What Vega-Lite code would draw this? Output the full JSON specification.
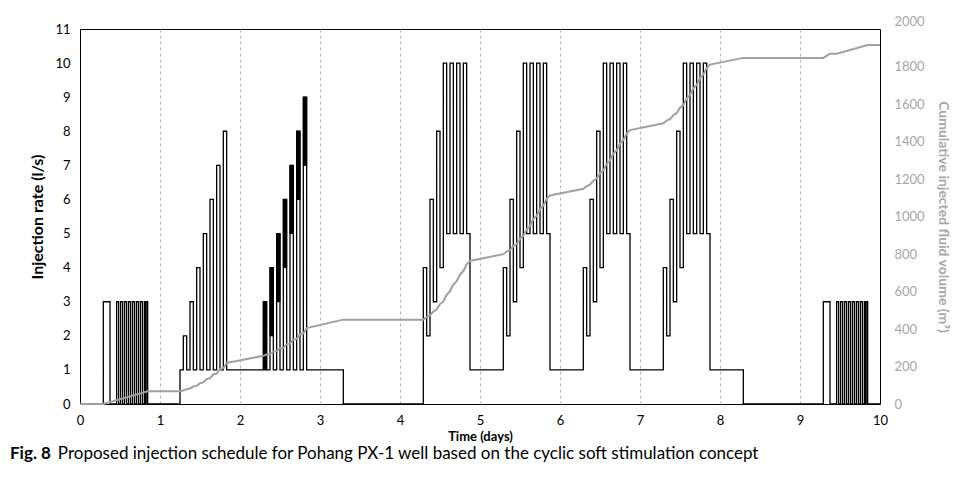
{
  "$schema": "https://vega.github.io/schema/vega-lite/v6.json",
  "width": 800,
  "height": 375,
  "autosize": "none",
  "padding": {"left": 80, "top": 29, "right": 78, "bottom": 86},
  "background": "white",
  "config": {"font": "Lato", "view": {"stroke": "black", "strokeWidth": 1}},
  "title": {
    "text": "Fig. 8",
    "subtitle": "\u200b\u00a0\u00a0\u00a0\u00a0\u00a0\u00a0\u00a0\u00a0\u00a0\u00a0\u00a0Proposed injection schedule for Pohang PX-1 well based on the cyclic soft stimulation concept",
    "orient": "bottom",
    "anchor": "start",
    "frame": "group",
    "dx": -70,
    "offset": 3,
    "font": "Lato",
    "fontSize": 17,
    "fontWeight": "bold",
    "color": "black",
    "subtitleFont": "Lato",
    "subtitleFontSize": 17,
    "subtitleFontWeight": "normal",
    "subtitleColor": "black",
    "subtitlePadding": -17
  },
  "datasets": {
    "burst": [
      {"h0": 55, "h1": 56, "lo": 1, "hi": 3},
      {"h0": 57, "h1": 58, "lo": 2, "hi": 4},
      {"h0": 59, "h1": 60, "lo": 3, "hi": 5},
      {"h0": 61, "h1": 62, "lo": 4, "hi": 6},
      {"h0": 63, "h1": 64, "lo": 5, "hi": 7},
      {"h0": 65, "h1": 66, "lo": 6, "hi": 8},
      {"h0": 67, "h1": 68, "lo": 7, "hi": 9}
    ],
    "rate": [
      {"h": 0, "r": 0}, {"h": 7, "r": 3}, {"h": 9, "r": 0},
      {"h": 11, "r": 3}, {"h": 11.6, "r": 0}, {"h": 12.2, "r": 3}, {"h": 12.8, "r": 0}, {"h": 13.4, "r": 3}, {"h": 14, "r": 0},
      {"h": 14.6, "r": 3}, {"h": 15.2, "r": 0}, {"h": 15.8, "r": 3}, {"h": 16.4, "r": 0}, {"h": 17, "r": 3}, {"h": 17.6, "r": 0},
      {"h": 18.2, "r": 3}, {"h": 18.8, "r": 0}, {"h": 19.4, "r": 3}, {"h": 19.7, "r": 0}, {"h": 19.85, "r": 3}, {"h": 20.3, "r": 0},
      {"h": 30, "r": 1}, {"h": 31, "r": 2}, {"h": 32, "r": 1}, {"h": 33, "r": 3}, {"h": 34, "r": 1}, {"h": 35, "r": 4}, {"h": 36, "r": 1},
      {"h": 37, "r": 5}, {"h": 38, "r": 1}, {"h": 39, "r": 6}, {"h": 40, "r": 1}, {"h": 41, "r": 7}, {"h": 42, "r": 1}, {"h": 43, "r": 8}, {"h": 44, "r": 1},
      {"h": 55, "r": 3}, {"h": 56, "r": 1}, {"h": 57, "r": 4}, {"h": 58, "r": 1}, {"h": 59, "r": 5}, {"h": 60, "r": 1}, {"h": 61, "r": 6}, {"h": 62, "r": 1},
      {"h": 63, "r": 7}, {"h": 64, "r": 1}, {"h": 65, "r": 8}, {"h": 66, "r": 1}, {"h": 67, "r": 9}, {"h": 68, "r": 1}, {"h": 79, "r": 0},
      {"h": 103, "r": 4}, {"h": 104, "r": 2}, {"h": 105, "r": 6}, {"h": 106, "r": 3}, {"h": 107, "r": 8}, {"h": 108, "r": 4}, {"h": 109, "r": 10},
      {"h": 110, "r": 5}, {"h": 111, "r": 10}, {"h": 112, "r": 5}, {"h": 113, "r": 10}, {"h": 114, "r": 5}, {"h": 115, "r": 10}, {"h": 116, "r": 5}, {"h": 117, "r": 1},
      {"h": 127, "r": 4}, {"h": 128, "r": 2}, {"h": 129, "r": 6}, {"h": 130, "r": 3}, {"h": 131, "r": 8}, {"h": 132, "r": 4}, {"h": 133, "r": 10},
      {"h": 134, "r": 5}, {"h": 135, "r": 10}, {"h": 136, "r": 5}, {"h": 137, "r": 10}, {"h": 138, "r": 5}, {"h": 139, "r": 10}, {"h": 140, "r": 5}, {"h": 141, "r": 1},
      {"h": 151, "r": 4}, {"h": 152, "r": 2}, {"h": 153, "r": 6}, {"h": 154, "r": 3}, {"h": 155, "r": 8}, {"h": 156, "r": 4}, {"h": 157, "r": 10},
      {"h": 158, "r": 5}, {"h": 159, "r": 10}, {"h": 160, "r": 5}, {"h": 161, "r": 10}, {"h": 162, "r": 5}, {"h": 163, "r": 10}, {"h": 164, "r": 5}, {"h": 165, "r": 1},
      {"h": 175, "r": 4}, {"h": 176, "r": 2}, {"h": 177, "r": 6}, {"h": 178, "r": 3}, {"h": 179, "r": 8}, {"h": 180, "r": 4}, {"h": 181, "r": 10},
      {"h": 182, "r": 5}, {"h": 183, "r": 10}, {"h": 184, "r": 5}, {"h": 185, "r": 10}, {"h": 186, "r": 5}, {"h": 187, "r": 10}, {"h": 188, "r": 5}, {"h": 189, "r": 1},
      {"h": 199, "r": 0},
      {"h": 223, "r": 3}, {"h": 225, "r": 0},
      {"h": 227, "r": 3}, {"h": 227.6, "r": 0}, {"h": 228.2, "r": 3}, {"h": 228.8, "r": 0}, {"h": 229.4, "r": 3}, {"h": 230, "r": 0},
      {"h": 230.6, "r": 3}, {"h": 231.2, "r": 0}, {"h": 231.8, "r": 3}, {"h": 232.4, "r": 0}, {"h": 233, "r": 3}, {"h": 233.6, "r": 0},
      {"h": 234.2, "r": 3}, {"h": 234.8, "r": 0}, {"h": 235.4, "r": 3}, {"h": 235.7, "r": 0}, {"h": 235.85, "r": 3}, {"h": 236.3, "r": 0}, {"h": 240, "r": 0}
    ],
    "vol": [
      {"h": 0, "v": 0}, {"h": 7, "v": 0}, {"h": 20.3, "v": 68}, {"h": 30, "v": 68},
      {"h": 31, "v": 72}, {"h": 32, "v": 79}, {"h": 33, "v": 83}, {"h": 34, "v": 93}, {"h": 35, "v": 97}, {"h": 36, "v": 111}, {"h": 37, "v": 115},
      {"h": 38, "v": 133}, {"h": 39, "v": 137}, {"h": 40, "v": 158}, {"h": 41, "v": 162}, {"h": 42, "v": 187}, {"h": 43, "v": 191}, {"h": 44, "v": 219},
      {"h": 55, "v": 257}, {"h": 56, "v": 264}, {"h": 57, "v": 268}, {"h": 58, "v": 279}, {"h": 59, "v": 282}, {"h": 60, "v": 297}, {"h": 61, "v": 300},
      {"h": 62, "v": 318}, {"h": 63, "v": 322}, {"h": 64, "v": 343}, {"h": 65, "v": 347}, {"h": 66, "v": 372}, {"h": 67, "v": 376}, {"h": 68, "v": 405},
      {"h": 79, "v": 450}, {"h": 103, "v": 450},
      {"h": 104, "v": 464}, {"h": 105, "v": 472}, {"h": 106, "v": 493}, {"h": 107, "v": 504}, {"h": 108, "v": 533}, {"h": 109, "v": 547}, {"h": 110, "v": 583},
      {"h": 111, "v": 601}, {"h": 112, "v": 637}, {"h": 113, "v": 655}, {"h": 114, "v": 691}, {"h": 115, "v": 709}, {"h": 116, "v": 745}, {"h": 117, "v": 763},
      {"h": 127, "v": 799},
      {"h": 128, "v": 813}, {"h": 129, "v": 820}, {"h": 130, "v": 842}, {"h": 131, "v": 853}, {"h": 132, "v": 882}, {"h": 133, "v": 896}, {"h": 134, "v": 932},
      {"h": 135, "v": 950}, {"h": 136, "v": 986}, {"h": 137, "v": 1004}, {"h": 138, "v": 1040}, {"h": 139, "v": 1058}, {"h": 140, "v": 1094}, {"h": 141, "v": 1112},
      {"h": 151, "v": 1148},
      {"h": 152, "v": 1162}, {"h": 153, "v": 1170}, {"h": 154, "v": 1191}, {"h": 155, "v": 1202}, {"h": 156, "v": 1231}, {"h": 157, "v": 1245}, {"h": 158, "v": 1281},
      {"h": 159, "v": 1299}, {"h": 160, "v": 1335}, {"h": 161, "v": 1353}, {"h": 162, "v": 1389}, {"h": 163, "v": 1407}, {"h": 164, "v": 1443}, {"h": 165, "v": 1461},
      {"h": 175, "v": 1497},
      {"h": 176, "v": 1512}, {"h": 177, "v": 1519}, {"h": 178, "v": 1540}, {"h": 179, "v": 1551}, {"h": 180, "v": 1580}, {"h": 181, "v": 1594}, {"h": 182, "v": 1630},
      {"h": 183, "v": 1648}, {"h": 184, "v": 1684}, {"h": 185, "v": 1702}, {"h": 186, "v": 1738}, {"h": 187, "v": 1756}, {"h": 188, "v": 1792}, {"h": 189, "v": 1810},
      {"h": 199, "v": 1846}, {"h": 223, "v": 1846}, {"h": 225, "v": 1868}, {"h": 227, "v": 1868}, {"h": 236.3, "v": 1915}, {"h": 240, "v": 1915}
    ]
  },
  "layer": [
    {
      "data": {"name": "burst"},
      "mark": {"type": "rect", "color": "black", "stroke": "black", "strokeWidth": 1},
      "encoding": {
        "x": {
          "field": "h0", "type": "quantitative",
          "scale": {"domain": [0, 240], "nice": false, "zero": false},
          "axis": {
            "title": "Time (days)",
            "values": [0, 24, 48, 72, 96, 120, 144, 168, 192, 216, 240],
            "labelExpr": "datum.value / 24",
            "grid": true,
            "gridDash": [3, 3],
            "gridColor": "#b4b4b4",
            "gridWidth": 1,
            "gridOpacity": {"condition": {"test": "datum.value == 0 || datum.value == 240", "value": 0}, "value": 1},
            "ticks": false,
            "domain": false,
            "labelFontSize": 13,
            "labelColor": "black",
            "labelPadding": 10,
            "labelFlush": false,
            "labelOverlap": false,
            "titleFontSize": 13,
            "titleFontWeight": "bold",
            "titleColor": "black",
            "titlePadding": 3
          }
        },
        "x2": {"field": "h1"},
        "y": {
          "field": "lo", "type": "quantitative",
          "scale": {"domain": [0, 11], "nice": false},
          "axis": null
        },
        "y2": {"field": "hi"}
      }
    },
    {
      "data": {"name": "rate"},
      "mark": {"type": "line", "interpolate": "step-after", "color": "black", "strokeWidth": 1.3},
      "encoding": {
        "x": {"field": "h", "type": "quantitative"},
        "y": {
          "field": "r", "type": "quantitative",
          "scale": {"domain": [0, 11], "nice": false},
          "axis": {
            "orient": "left",
            "title": "Injection rate (l/s)",
            "values": [0, 1, 2, 3, 4, 5, 6, 7, 8, 9, 10, 11],
            "ticks": false,
            "domain": false,
            "grid": false,
            "labelOverlap": false,
            "labelFontSize": 13,
            "labelColor": "black",
            "labelPadding": 10,
            "titleFontSize": 16,
            "titleFontWeight": "bold",
            "titleColor": "black",
            "titlePadding": 9
          }
        }
      }
    },
    {
      "data": {"name": "vol"},
      "mark": {"type": "line", "color": "#a0a0a0", "strokeWidth": 2},
      "encoding": {
        "x": {"field": "h", "type": "quantitative"},
        "y": {
          "field": "v", "type": "quantitative",
          "scale": {"domain": [0, 2000], "nice": false},
          "axis": {
            "orient": "right",
            "title": "Cumulative injected fluid volume (m³)",
            "values": [0, 200, 400, 600, 800, 1000, 1200, 1400, 1600, 1800, 2000],
            "format": "d",
            "ticks": false,
            "domain": false,
            "grid": false,
            "labelOverlap": false,
            "labelOffset": {"condition": {"test": "datum.value == 2000", "value": -8}, "value": 0},
            "labelFontSize": 13,
            "labelColor": "#a6a6a6",
            "labelPadding": 14,
            "titleFontSize": 14,
            "titleFontWeight": "bold",
            "titleColor": "#a6a6a6",
            "titlePadding": 11
          }
        }
      }
    }
  ],
  "resolve": {"scale": {"y": "independent"}}
}
